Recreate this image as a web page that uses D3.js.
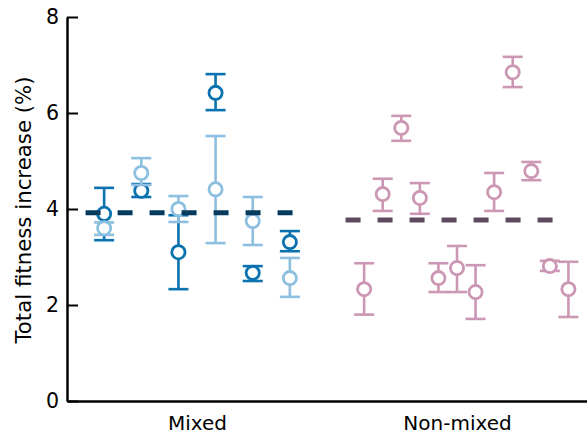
<!DOCTYPE html>
<html>
<head>
<meta charset="utf-8">
<script src="https://cdn.jsdelivr.net/npm/d3@7"></script>
<style>
  body { margin: 0; background: #fff; }
  svg text { font-family: "DejaVu Sans", sans-serif; }
</style>
</head>
<body>
<div class="chart"></div>
<script>
// groups and where they sit on the x axis (slot units)
const groups = ["Mixed", "Non-mixed"];
const groupCentres = [5, 19];
const mixedSlots = [0, 2, 4, 6, 8, 10];
const nonMixedSlots = [14, 15, 16, 17, 18, 19, 20, 21, 22, 23, 24, 25];

// mixed, dark series
const mixedDark = [3.9, 4.38, 3.1, 6.42, 2.67, 3.31];
const mixedDarkLo = [3.35, 4.25, 2.33, 6.06, 2.5, 3.12];
const mixedDarkHi = [4.44, 4.52, 3.87, 6.81, 2.81, 3.54];

// mixed, light series
const mixedLight = [3.6, 4.75, 4.0, 4.41, 3.75, 2.56];
const mixedLightLo = [3.46, 4.5, 3.73, 3.29, 3.25, 2.17];
const mixedLightHi = [3.72, 5.06, 4.27, 5.52, 4.25, 2.98];

// non-mixed
const nonMixed = [2.33, 4.31, 5.69, 4.23, 2.56, 2.77, 2.27, 4.35, 6.85, 4.79, 2.81, 2.33];
const nonMixedLo = [1.8, 3.96, 5.42, 3.9, 2.27, 2.27, 1.71, 3.96, 6.54, 4.6, 2.71, 1.75];
const nonMixedHi = [2.87, 4.63, 5.94, 4.54, 2.87, 3.23, 2.83, 4.75, 7.17, 4.98, 2.92, 2.9];

// group means (dashed lines)
const groupMeans = [3.92, 3.77];

const yTicks = [0, 2, 4, 6, 8];

const width = 587, height = 437;
const svg = d3.select(".chart").append("svg")
  .attr("width", width)
  .attr("height", height);

const x = d3.scaleLinear().domain([-2, 26]).range([67, 587]);
const y = d3.scaleLinear().domain([0, 8]).range([401, 17]);

// y axis, ticks pointing inward
const yAxis = svg.append("g")
  .attr("transform", "translate(67,0)")
  .call(d3.axisLeft(y).tickValues(yTicks).tickSizeInner(-11).tickSizeOuter(0).tickPadding(8));
yAxis.select(".domain").attr("stroke-width", 2.5);
yAxis.selectAll(".tick line").attr("stroke-width", 2);
yAxis.selectAll("text").style("font-size", "20.5px").attr("fill", "#000");

// x axis, labels only
const xAxis = svg.append("g")
  .attr("transform", "translate(0,401)")
  .call(d3.axisBottom(x).tickValues(groupCentres).tickSize(0).tickPadding(15)
    .tickFormat((d, i) => groups[i]));
xAxis.select(".domain").attr("stroke-width", 2.5);
xAxis.selectAll("text").style("font-size", "20px").attr("fill", "#000");

svg.append("text")
  .attr("transform", "translate(31,210) rotate(-90)")
  .attr("text-anchor", "middle")
  .style("font-size", "21.3px")
  .text("Total fitness increase (%)");

// one error-bar series
function drawSeries(slots, vals, lo, hi, colour) {
  const g = svg.append("g")
    .attr("stroke", colour)
    .attr("stroke-width", 2.6);
  const pts = g.selectAll("g").data(vals).enter().append("g");
  pts.append("line")
    .attr("x1", (d, i) => x(slots[i])).attr("x2", (d, i) => x(slots[i]))
    .attr("y1", (d, i) => y(lo[i])).attr("y2", (d, i) => y(hi[i]));
  pts.append("line")
    .attr("x1", (d, i) => x(slots[i]) - 10).attr("x2", (d, i) => x(slots[i]) + 10)
    .attr("y1", (d, i) => y(lo[i])).attr("y2", (d, i) => y(lo[i]));
  pts.append("line")
    .attr("x1", (d, i) => x(slots[i]) - 10).attr("x2", (d, i) => x(slots[i]) + 10)
    .attr("y1", (d, i) => y(hi[i])).attr("y2", (d, i) => y(hi[i]));
  pts.append("circle")
    .attr("cx", (d, i) => x(slots[i]))
    .attr("cy", d => y(d))
    .attr("r", 6.6)
    .attr("stroke-width", 2.8)
    .attr("fill", "#fff");
}

drawSeries(mixedSlots, mixedDark, mixedDarkLo, mixedDarkHi, "#0a72ae");
drawSeries(mixedSlots, mixedLight, mixedLightLo, mixedLightHi, "#8cbfe0");
drawSeries(nonMixedSlots, nonMixed, nonMixedLo, nonMixedHi, "#cc97b4");

// mean lines
const meanColours = ["#063b5d", "#5f4a5d"];
svg.selectAll(".mean")
  .data(groupMeans)
  .enter().append("line")
  .attr("class", "mean")
  .attr("x1", (d, i) => x(groupCentres[i] - 6))
  .attr("x2", (d, i) => x(groupCentres[i] + 6))
  .attr("y1", d => y(d))
  .attr("y2", d => y(d))
  .attr("stroke", (d, i) => meanColours[i])
  .attr("stroke-width", 5)
  .attr("stroke-dasharray", "15,17");
</script>
</body>
</html>
